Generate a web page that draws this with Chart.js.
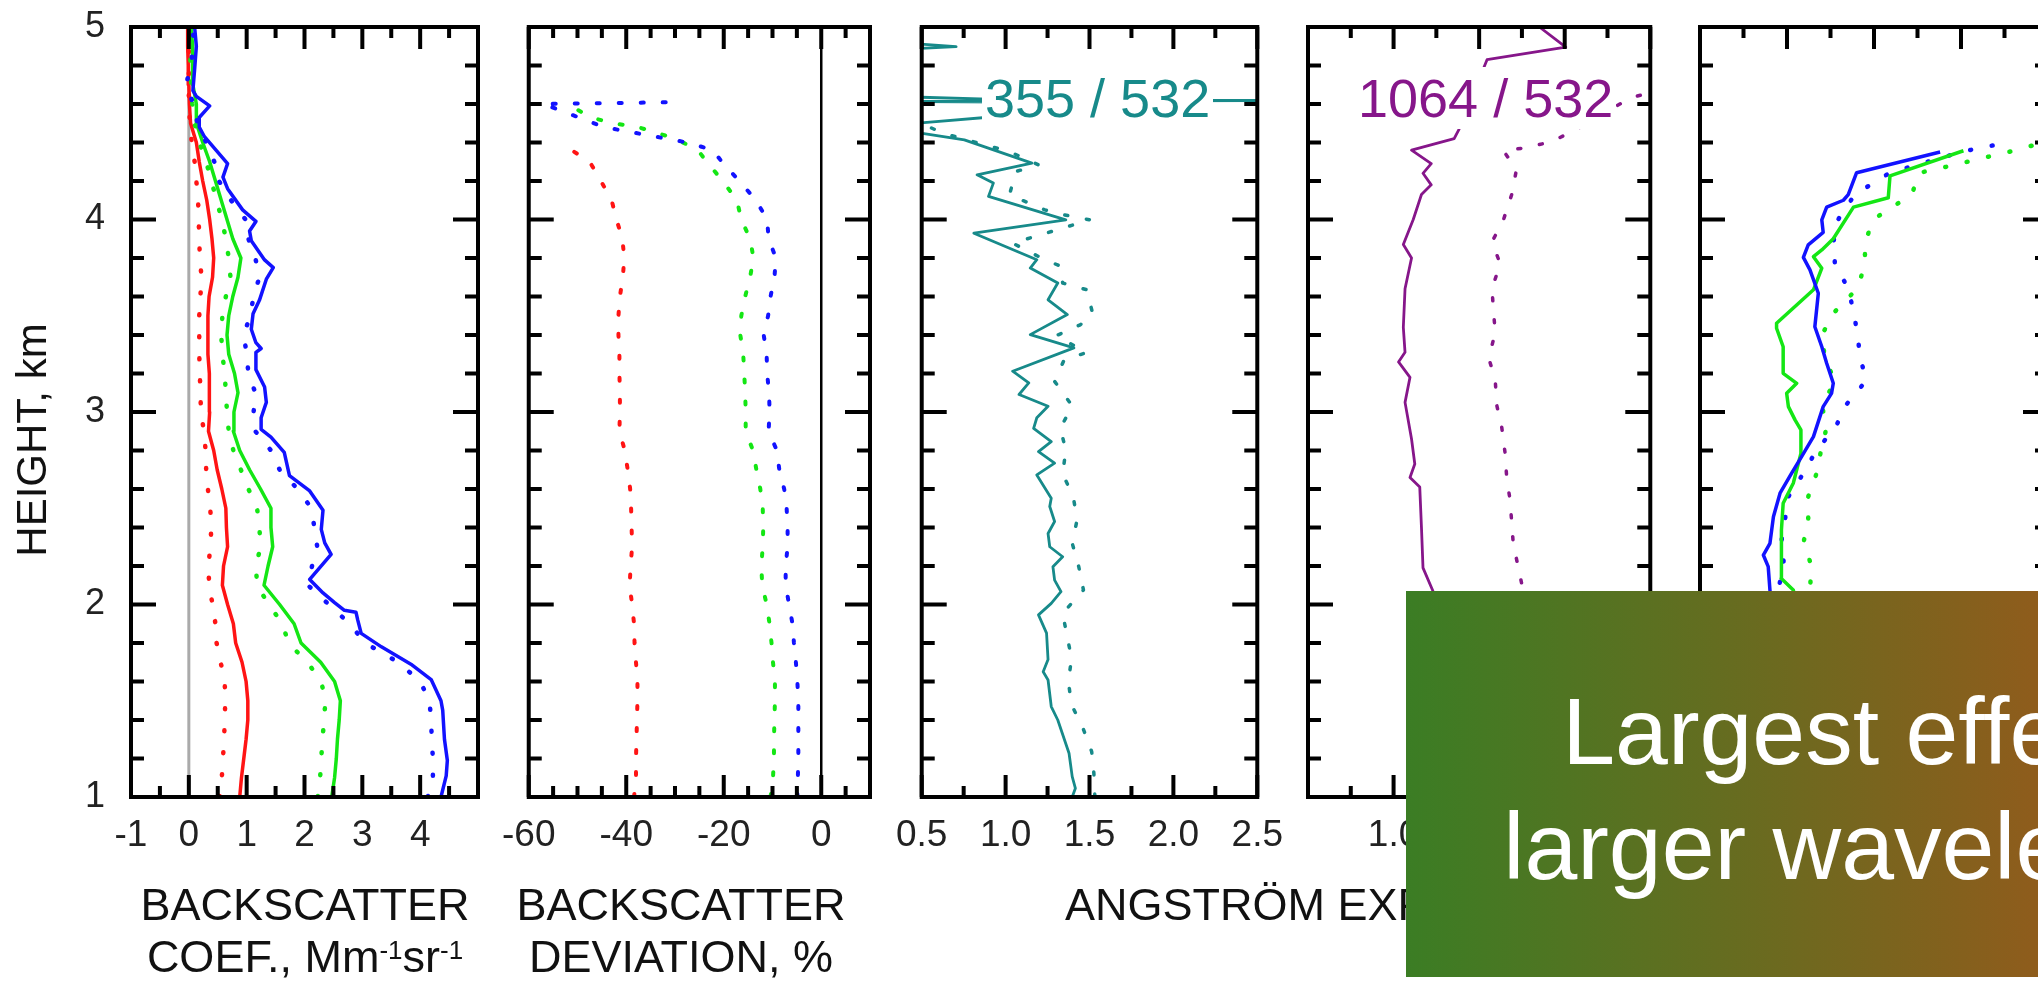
<!DOCTYPE html>
<html>
<head>
<meta charset="utf-8">
<title>Backscatter and Angström exponent profiles</title>
<script src="https://cdn.jsdelivr.net/npm/chart.js@4.4.1/dist/chart.umd.min.js"></script>
<style>
  html, body { margin: 0; padding: 0; background: #fff; }
  body { width: 2038px; height: 985px; overflow: hidden; position: relative;
         font-family: 'Liberation Sans', Arial, Helvetica, sans-serif; }
  canvas { position: absolute; top: 0; }
  .title { position: absolute; top: 879px; font-size: 45px; line-height: 52px; color: #111; white-space: nowrap; }
  .title.c { width: 500px; text-align: center; }
  .title sup { font-size: 26px; line-height: 0; vertical-align: 13px; }
  #ylab { position: absolute; left: -118px; top: 415px; width: 300px; height: 50px; line-height: 50px;
          font-size: 42px; color: #111; text-align: center; transform: rotate(-90deg); white-space: nowrap; }
  .tag { position: absolute; top: 67px; height: 62px; font-size: 54px; line-height: 62px;
         background: #fff; padding: 0 3px; white-space: nowrap; }
  #note { position: absolute; left: 1406px; top: 591px; width: 992px; height: 386px; box-sizing: border-box;
          padding-top: 83px; color: #fff; font-size: 95px; line-height: 115px; text-align: center; white-space: nowrap;
          background: linear-gradient(to right, #3b7d24 0%, #8f5c1c 64%, #a5531a 100%); }
</style>
</head>
<body>
<!-- the first canvas sits higher: its y labels need extra room above the plot -->
<canvas id="p1" width="497" height="917" style="left:21px;top:-17px"></canvas>
<canvas id="p2" width="428" height="900" style="left:482px"></canvas>
<canvas id="p3" width="427" height="900" style="left:876px"></canvas>
<canvas id="p4" width="428" height="900" style="left:1268px"></canvas>
<canvas id="p5" width="428" height="900" style="left:1660px"></canvas>

<div id="ylab">HEIGHT, km</div>
<div class="title c" style="left:55px">BACKSCATTER<br>COEF., Mm<sup>-1</sup>sr<sup>-1</sup></div>
<div class="title c" style="left:431px">BACKSCATTER<br>DEVIATION, %</div>
<div class="title" style="left:1065px">ANGSTRÖM EXPONENT</div>
<div class="tag" style="left:982px;color:#178a8a">355 / 532</div>
<div class="tag" style="left:1355px;color:#86168a">1064 / 532</div>
<div id="note">Largest effect at<br>larger wavelengths</div>

<script>
Chart.defaults.font.family = "'Liberation Sans', Arial, Helvetica, sans-serif";

// height grid, km
const H = [1.0,1.1,1.2,1.3,1.4,1.5,1.6,1.7,1.8,1.9,2.0,2.1,2.2,2.3,2.4,2.5,2.6,2.7,2.8,2.9,
           3.0,3.1,3.2,3.3,3.4,3.5,3.6,3.7,3.8,3.9,4.0,4.1,4.2,4.3,4.4,4.5,4.6,4.7,4.8,4.9,5.0];
const heightTicks = [1, 2, 3, 4, 5];

// backscatter coefficient, Mm-1 sr-1
const bsc355H = [1.0,1.11,1.19,1.30,1.45,1.50,1.61,1.69,1.78,1.85,1.92,1.96,1.97,2.01,2.06,2.13,2.26,2.32,2.39,2.49,
                 2.59,2.67,2.79,2.87,2.91,2.97,3.05,3.13,3.22,3.31,3.33,3.36,3.43,3.51,3.58,3.69,3.75,3.79,3.89,3.94,
                 3.99,4.05,4.16,4.22,4.29,4.43,4.48,4.53,4.59,4.64,4.67,4.78,4.90,5.0];
const bsc355 = [4.36,4.45,4.47,4.42,4.39,4.36,4.19,3.84,3.33,2.98,2.92,2.89,2.69,2.52,2.32,2.09,2.46,2.35,2.29,2.32,
                2.09,1.74,1.65,1.42,1.25,1.25,1.34,1.31,1.16,1.16,1.25,1.16,1.08,1.11,1.22,1.34,1.46,1.31,1.08,1.05,
                1.16,0.93,0.67,0.59,0.67,0.27,0.18,0.18,0.36,0.13,0.07,0.10,0.13,0.10];
const bsc355Dot = [4.13,4.22,4.22,4.20,4.19,4.16,4.00,3.62,3.05,2.78,2.42,2.06,2.13,2.22,2.17,2.12,1.88,1.57,1.42,1.15,
                   1.12,1.15,1.03,1.00,0.95,1.06,1.12,1.22,1.15,1.03,0.98,0.73,0.52,0.44,0.30,0.15,0.08,-0.05,0.04,0.07,0.08];
const bsc532 = [2.47,2.52,2.55,2.57,2.60,2.62,2.52,2.28,1.94,1.82,1.57,1.30,1.37,1.45,1.42,1.42,1.24,1.05,0.88,0.77,
                0.78,0.85,0.79,0.69,0.66,0.69,0.76,0.85,0.90,0.76,0.66,0.56,0.46,0.36,0.24,0.13,0.13,0.07,0.07,0.06,0.04];
const bsc532Dot = [2.23,2.27,2.29,2.31,2.34,2.36,2.29,2.05,1.72,1.62,1.38,1.18,1.16,1.24,1.22,1.18,1.03,0.90,0.77,0.69,
                   0.66,0.64,0.62,0.58,0.56,0.58,0.64,0.72,0.69,0.64,0.57,0.48,0.39,0.30,0.18,0.10,0.06,0.04,0.03,0.02,0.01];
const bsc1064 = [0.88,0.91,0.95,0.99,1.02,1.02,0.99,0.92,0.81,0.77,0.67,0.58,0.60,0.67,0.65,0.64,0.57,0.49,0.43,0.34,
                 0.36,0.36,0.35,0.33,0.33,0.33,0.35,0.41,0.43,0.40,0.36,0.31,0.24,0.18,0.13,0.03,0.01,0.00,-0.01,-0.02,-0.02];
const bsc1064Dot = [0.53,0.57,0.59,0.61,0.62,0.63,0.62,0.55,0.48,0.46,0.41,0.35,0.34,0.37,0.39,0.37,0.33,0.30,0.29,0.26,
                    0.21,0.20,0.19,0.18,0.18,0.18,0.20,0.22,0.19,0.18,0.17,0.16,0.13,0.10,0.05,0.02,0.00,0.00,0.00,0.00,0.00];
const bscTicks = [-1, 0, 1, 2, 3, 4];

// backscatter deviation, %
const dev355H = [...H.slice(0, 34), 4.36, 4.40, 4.48, 4.53, 4.60, 4.61];
const dev355 = [-4.9,-4.8,-4.7,-4.7,-4.7,-4.7,-4.9,-5.2,-5.6,-5.9,-6.6,-7.3,-7.3,-6.9,-6.9,-7.1,-7.6,-8.6,-9.1,-10.8,
                -10.6,-10.7,-11.1,-11.2,-11.8,-10.9,-10.4,-9.6,-9.3,-10.8,-11.1,-13.4,-16.8,-20.4,
                -22.2,-27.5,-44.6,-49.7,-57.0,-28.2];
const dev532H = [...H.slice(0, 34), 4.36, 4.42, 4.48, 4.50, 4.53, 4.61];
const dev532 = [-10.4,-9.9,-9.7,-9.7,-9.6,-9.5,-9.5,-9.9,-10.2,-10.6,-11.2,-12.1,-12.3,-12.0,-11.9,-12.0,-12.5,-13.3,-14.0,-15.5,
                -15.5,-15.6,-15.8,-16.0,-16.6,-16.4,-15.6,-14.6,-13.9,-14.6,-16.4,-17.3,-20.2,-23.5,
                -25.3,-29.9,-37.6,-42.6,-47.3,-52.7];
const dev1064H = H.slice(0, 35);
const dev1064 = [-38.4,-38.0,-38.0,-37.9,-37.8,-37.7,-37.7,-38.0,-38.3,-38.4,-38.8,-39.3,-39.1,-38.8,-38.9,-39.0,-39.2,-39.7,-40.3,-41.4,
                 -41.3,-41.3,-41.4,-41.4,-41.6,-41.6,-41.3,-40.7,-40.4,-40.8,-42.0,-43.0,-45.2,-47.5,-53.7];
const devTicks = [-60, -40, -20, 0];

// Angstrom exponent 355/532
const ang355H = [1.0,1.045,1.106,1.227,1.400,1.470,1.608,1.651,1.714,1.851,1.946,2.006,2.067,2.127,2.196,2.248,2.300,2.369,2.431,2.509,
                 2.552,2.673,2.734,2.794,2.846,2.915,2.970,3.030,3.091,3.151,3.212,3.333,3.402,3.506,3.583,3.670,3.748,3.791,3.929,3.998,
                 4.120,4.189,4.232,4.293,4.414,4.448,4.47,4.50,4.535,4.61,4.613,4.618,4.62,4.64,4.88,4.898,4.924];
const ang355 = [1.397,1.416,1.397,1.378,1.311,1.272,1.253,1.224,1.253,1.244,1.196,1.272,1.330,1.292,1.282,1.340,1.263,1.253,1.292,1.263,
                1.272,1.186,1.292,1.196,1.272,1.167,1.186,1.253,1.080,1.138,1.042,1.407,1.147,1.368,1.253,1.311,1.147,1.186,0.811,1.359,
                0.898,0.927,0.830,1.157,0.754,0.504,0.38,0.47,0.95,1.0,0.3,2.8,1.1,0.3,0.3,0.705,0.3];
const ang355DotH = [1.0,1.124,1.236,1.358,1.479,1.600,1.721,1.842,1.954,2.075,2.196,2.318,2.440,2.561,2.678,2.803,2.915,3.032,3.159,3.271,
                    3.309,3.396,3.453,3.514,3.635,3.670,3.756,3.808,3.877,3.998,4.024,4.050,4.128,4.249,4.284,4.353,4.387,4.45,4.52,4.56];
const ang355Dot = [1.532,1.526,1.513,1.461,1.393,1.374,1.393,1.365,1.340,1.464,1.436,1.397,1.426,1.403,1.340,1.359,1.326,1.397,1.292,1.349,
                   1.484,1.301,1.445,1.518,1.484,1.340,1.330,1.195,1.042,1.503,1.349,1.234,1.023,1.061,1.195,1.023,0.878,0.62,0.45,0.30];

// Angstrom exponent 1064/532
const ang1064H = [2.00,2.07,2.19,2.40,2.61,2.66,2.73,2.86,3.05,3.18,3.26,3.31,3.44,3.64,3.80,3.87,4.00,4.13,4.18,4.24,
                  4.29,4.36,4.42,4.47,4.83,4.896,5.0];
const ang1064 = [1.24,1.230,1.172,1.163,1.153,1.096,1.124,1.105,1.067,1.096,1.029,1.067,1.057,1.067,1.105,1.057,1.115,1.163,1.220,1.172,
                 1.220,1.105,1.354,1.383,1.546,2.006,1.852];
const ang1064DotH = [2.00,2.073,2.318,2.432,2.546,2.660,2.791,2.921,3.035,3.166,3.281,3.411,3.525,3.640,3.770,3.884,3.998,4.129,4.259,4.357,
                     4.373,4.406,4.471,4.634,4.70];
const ang1064Dot = [1.77,1.757,1.699,1.690,1.680,1.661,1.651,1.632,1.603,1.594,1.556,1.594,1.584,1.575,1.623,1.575,1.642,1.690,1.718,1.642,
                    1.776,1.929,2.073,2.389,2.70];
const angTicks = [0.5, 1.0, 1.5, 2.0, 2.5];
const ang2Ticks = [1.0, 1.5, 2.0, 2.5];

// right-hand panel
const lr355H = [2.00,2.075,2.197,2.257,2.318,2.456,2.578,2.681,2.768,2.872,3.028,3.097,3.149,3.253,3.339,3.443,3.617,3.738,3.803,3.868,
                3.933,3.998,4.064,4.10,4.129,4.243,4.351];
const lr355 = [20.5,20.1,19.6,18.2,20.1,21.1,23.0,26.3,29.2,32.6,35.4,37.8,38.3,36.4,35.0,33.0,34.0,31.6,29.7,31.1,
               35.4,35.0,36.4,41.2,42.6,45.0,69.0];
const lr532H = [2.00,2.075,2.136,2.214,2.387,2.526,2.630,2.785,2.907,2.959,3.028,3.097,3.149,3.201,3.339,3.435,3.461,3.635,3.747,3.807,
                3.842,3.900,4.064,4.113,4.227,4.357];
const lr532 = [28.0,26.8,23.3,23.3,23.5,23.9,26.8,29.0,29.0,27.3,25.4,24.9,27.8,23.9,23.9,22.0,22.0,32.6,35.0,32.6,
               35.0,38.3,44.1,54.1,54.6,75.7];
const lr355DotH = [2.00,2.084,2.200,2.318,2.439,2.560,2.681,2.803,2.916,3.042,3.166,3.279,3.401,3.522,3.643,3.764,3.88,4.00,4.13,4.243,
                   4.351,4.38,4.40];
const lr355Dot = [22.0,22.5,24.2,23.3,24.4,25.4,29.7,33.5,38.8,42.2,47.9,46.0,45.3,44.1,42.6,38.8,38.3,39.7,44.5,54.6,
                  75.2,82.4,90.0];
const lr532DotH = [2.00,2.084,2.200,2.318,2.439,2.560,2.681,2.803,2.921,3.037,3.158,3.279,3.401,3.522,3.638,3.759,3.88,4.00,4.13,4.243,
                   4.27,4.357,4.39];
const lr532Dot = [31.5,31.6,32.1,29.7,31.1,31.1,33.5,34.8,36.4,35.0,38.8,35.9,35.0,38.8,45.0,47.4,47.4,49.8,60.8,63.2,
                  69.9,90.0,96.7];
const lrTicks = [0, 25, 50, 75];

// vertical reference line at zero
const zeroH = [1, 5];
const zero = [0, 0];

const BLUE = '#1212ff', GREEN = '#14e614', RED = '#ff1414', TEAL = '#178a8a', PURPLE = '#86168a';

function trace(h, v) {
  return h.map((y, i) => ({ x: v[i], y: y }));
}
function line(h, v, color, width) {
  return { data: trace(h, v), borderColor: color, borderWidth: width, showLine: true,
           pointRadius: 0, borderJoinStyle: 'round', clip: 0 };
}
function dots(h, v, color, width, dash) {
  return Object.assign(line(h, v, color, width), { borderDash: dash, borderCapStyle: 'round' });
}

// box around the plot with inward ticks on all four sides
const frame = {
  id: 'frame',
  afterDatasetsDraw(chart, args, o) {
    const { ctx, chartArea: a } = chart;
    const x = chart.scales.x, y = chart.scales.y;
    const isMajor = (v, m) => Math.abs(v / m - Math.round(v / m)) < 1e-6;
    ctx.save();
    ctx.strokeStyle = '#000';
    ctx.lineWidth = 4;
    ctx.beginPath();
    for (let i = 0; ; i++) {
      const v = x.min + i * o.xStep;
      if (v > x.max + 1e-9) break;
      const px = x.getPixelForValue(v);
      const len = isMajor(v, o.xMajor) ? 22 : 11;
      ctx.moveTo(px, a.top); ctx.lineTo(px, a.top + len);
      ctx.moveTo(px, a.bottom); ctx.lineTo(px, a.bottom - len);
    }
    for (let i = 0; ; i++) {
      const v = y.min + i * o.yStep;
      if (v > y.max + 1e-9) break;
      const py = y.getPixelForValue(v);
      const len = isMajor(v, o.yMajor) ? 25 : 13;
      ctx.moveTo(a.left, py); ctx.lineTo(a.left + len, py);
      ctx.moveTo(a.right, py); ctx.lineTo(a.right - len, py);
    }
    ctx.stroke();
    ctx.strokeRect(a.left, a.top, a.right - a.left, a.bottom - a.top);
    ctx.restore();
  }
};

function panel(id, p) {
  return new Chart(document.getElementById(id), {
    type: 'scatter',
    data: { datasets: p.datasets },
    options: {
      responsive: false,
      animation: false,
      devicePixelRatio: 1,
      events: [],
      layout: { padding: { left: p.padLeft || 40, right: 40, top: p.padTop || 27, bottom: 0 } },
      plugins: {
        legend: { display: false },
        tooltip: { enabled: false },
        frame: { xStep: p.xStep, xMajor: p.xMajor, yStep: 0.2, yMajor: 1 }
      },
      scales: {
        x: {
          type: 'linear', min: p.min, max: p.max,
          afterBuildTicks: s => { s.ticks = p.ticks.map(v => ({ value: v })); },
          afterFit: s => { s.height = 103; },
          grid: { display: false, drawTicks: false },
          border: { display: false },
          ticks: { autoSkip: false, maxRotation: 0, padding: 20, color: '#222',
                   font: { size: 37, lineHeight: 1 }, callback: p.fmt || (v => String(v)) }
        },
        y: {
          type: 'linear', min: 1, max: 5, display: !!p.yTicks,
          afterBuildTicks: s => { if (p.yTicks) s.ticks = p.yTicks.map(v => ({ value: v })); },
          afterFit: s => { if (p.yTicks) s.width = 100; },
          grid: { display: false, drawTicks: false },
          border: { display: false },
          ticks: { padding: 26, color: '#222', font: { size: 36, lineHeight: 1 } }
        }
      }
    },
    plugins: [frame]
  });
}

const oneDec = v => v.toFixed(1);

panel('p1', {
  min: -1, max: 5, ticks: bscTicks, xStep: 0.5, xMajor: 1, yTicks: heightTicks, padLeft: 10, padTop: 44,
  datasets: [
    line(bsc355H, bsc355, BLUE, 3.5),
    dots(H, bsc355Dot, BLUE, 4.5, [1, 21]),
    line(H, bsc532, GREEN, 3.5),
    dots(H, bsc532Dot, GREEN, 4.5, [1, 21]),
    line(H, bsc1064, RED, 3.5),
    dots(H, bsc1064Dot, RED, 4.5, [1, 21]),
    line(zeroH, zero, '#aaaaaa', 3)
  ]
});

panel('p2', {
  min: -60, max: 10, ticks: devTicks, xStep: 5, xMajor: 20,
  datasets: [
    dots(dev355H, dev355, BLUE, 4, [3, 19]),
    dots(dev532H, dev532, GREEN, 4, [3, 19]),
    dots(dev1064H, dev1064, RED, 4, [3, 19]),
    line(zeroH, zero, '#000', 2.5)
  ]
});

panel('p3', {
  min: 0.5, max: 2.5, ticks: angTicks, xStep: 0.25, xMajor: 0.5, fmt: oneDec,
  datasets: [
    line(ang355H, ang355, TEAL, 2.8),
    dots(ang355DotH, ang355Dot, TEAL, 3.5, [3, 19])
  ]
});

panel('p4', {
  min: 0.5, max: 2.5, ticks: ang2Ticks, xStep: 0.25, xMajor: 0.5, fmt: oneDec,
  datasets: [
    line(ang1064H, ang1064, PURPLE, 2.8),
    dots(ang1064DotH, ang1064Dot, PURPLE, 3.5, [3, 19])
  ]
});

panel('p5', {
  min: 0, max: 100, ticks: lrTicks, xStep: 12.5, xMajor: 25,
  datasets: [
    line(lr355H, lr355, BLUE, 3.5),
    line(lr532H, lr532, GREEN, 3.5),
    dots(lr355DotH, lr355Dot, BLUE, 4.5, [1, 21]),
    dots(lr532DotH, lr532Dot, GREEN, 4.5, [1, 21])
  ]
});
</script>
</body>
</html>
